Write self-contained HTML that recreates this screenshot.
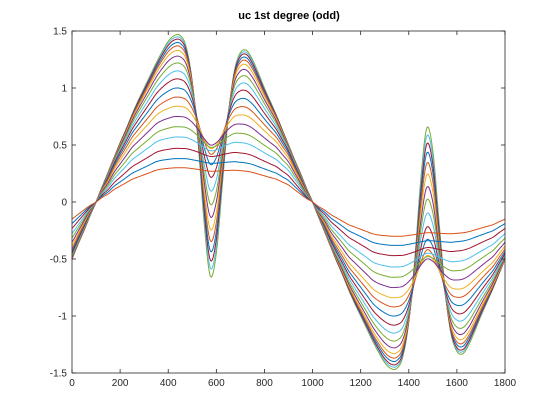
<!DOCTYPE html>
<html><head><meta charset="utf-8"><style>
body{margin:0;background:#fff}
svg{display:block;font-family:"Liberation Sans",sans-serif}
</style></head><body>
<svg id="chart" width="560" height="420" viewBox="0 0 560 420">
<rect width="560" height="420" fill="#fff"/>
<text x="289" y="19" text-anchor="middle" font-size="11" font-weight="bold" fill="#000">uc 1st degree (odd)</text>
<g id="curves"></g>
<g id="axes"></g>
</svg>
<script>
// shape samples over x = 0..900 step 25; second half antiperiodic: f(x+900) = -f(x)
const outerY = [-0.5,-0.37,-0.25,-0.12,0,0.13,0.26,0.39,0.52,0.64,0.77,0.89,1.0,1.11,1.22,1.32,1.41,1.46,1.46,1.36,1.05,0.5,-0.2,-0.65,-0.45,0.15,0.75,1.15,1.31,1.33,1.25,1.13,1.0,0.88,0.76,0.63,0.5];
const innerY = [-0.15,-0.11,-0.07,-0.03,0,0.04,0.07,0.11,0.14,0.17,0.2,0.22,0.24,0.26,0.28,0.29,0.295,0.3,0.3,0.3,0.295,0.29,0.285,0.28,0.28,0.28,0.28,0.28,0.275,0.27,0.26,0.245,0.23,0.215,0.2,0.175,0.15];
// per-curve peak near x≈440 and value at the dip x≈575 (innermost first)
const peakValues = [0.30,0.38,0.47,0.57,0.66,0.75,0.84,0.92,1.0,1.08,1.15,1.22,1.28,1.33,1.37,1.40,1.43,1.45,1.47];
const dipValues  = [0.27,0.34,0.40,0.45,0.48,0.50,0.47,0.42,0.33,0.22,0.10,-0.02,-0.13,-0.24,-0.34,-0.43,-0.51,-0.58,-0.65];
const xTicks = [0,200,400,600,800,1000,1200,1400,1600,1800];
const yTicks = [-1.5,-1,-0.5,0,0.5,1,1.5];
const yTickLabels = ["-1.5","-1","-0.5","0","0.5","1","1.5"];
const colors = ["#0072BD","#D95319","#EDB120","#7E2F8E","#77AC30","#4DBEEE","#A2142F"];

const L=72,R=505,T=31,B=373;
const xs = v => L + v/1800*(R-L);
const ys = v => B - (v+1.5)/3*(B-T);
const NS="http://www.w3.org/2000/svg";
const STEP=25;
function sampleAt(arr,x){
  x=((x%1800)+1800)%1800;
  const n=arr.length-1; // 36 intervals over 0..900
  const get=i=>{ let s=1; i=((i%(2*n))+2*n)%(2*n); if(i>=n){i-=n;s=-1;} return s*arr[i]; };
  const u=x/STEP, i=Math.floor(u), t=u-i;
  const p0=get(i-1),p1=get(i),p2=get(i+1),p3=get(i+2);
  return 0.5*((2*p1)+(-p0+p2)*t+(2*p0-5*p1+4*p2-p3)*t*t+(-p0+3*p1-3*p2+p3)*t*t*t);
}
const innerPeak = Math.max(...innerY);
const unitS = x => sampleAt(innerY,x)/innerPeak;
const outerPeak = peakValues[peakValues.length-1];
const D = x => sampleAt(outerY,x) - outerPeak*unitS(x);
const sDip = unitS(575), dDip = D(575);

const curvesG=document.getElementById('curves');
for(let idx=peakValues.length-1;idx>=0;idx--){
  const a=peakValues[idx];
  const b=(dipValues[idx]-a*sDip)/dDip;
  let d="";
  for(let x=0;x<=1800;x+=4){
    const y=a*unitS(x)+b*D(x);
    d+=(x?"L":"M")+xs(x).toFixed(2)+","+ys(y).toFixed(2);
  }
  const p=document.createElementNS(NS,"path");
  p.setAttribute("d",d);p.setAttribute("fill","none");
  p.setAttribute("stroke",colors[((1-idx)%7+7)%7]);p.setAttribute("stroke-width","1");
  
  
  curvesG.appendChild(p);
}
const ax=document.getElementById('axes');
function el(tag,attrs){const e=document.createElementNS(NS,tag);for(const k in attrs)e.setAttribute(k,attrs[k]);ax.appendChild(e);return e;}
const box=el("rect",{x:L,y:T,width:R-L,height:B-T,fill:"none",stroke:"#262626","stroke-width":"0.8"});


xTicks.forEach(v=>{
  const x=xs(v);
  const t1=el("line",{x1:x,y1:B,x2:x,y2:B-4,stroke:"#262626","stroke-width":"0.8"});
  
  
  const t2=el("line",{x1:x,y1:T,x2:x,y2:T+4,stroke:"#262626","stroke-width":"0.8"});
  
  
  const tx=el("text",{x:x,y:B+13,"text-anchor":"middle","font-size":"10",fill:"#262626"});
  tx.textContent=String(v);
  
  
});
yTicks.forEach((v,i)=>{
  const y=ys(v);
  const t1=el("line",{x1:L,y1:y,x2:L+4,y2:y,stroke:"#262626","stroke-width":"0.8"});
  
  
  const t2=el("line",{x1:R,y1:y,x2:R-4,y2:y,stroke:"#262626","stroke-width":"0.8"});
  
  
  const tx=el("text",{x:L-5,y:y+3.5,"text-anchor":"end","font-size":"10",fill:"#262626"});
  tx.textContent=yTickLabels[i];
  
  
});
</script>
</body></html>
